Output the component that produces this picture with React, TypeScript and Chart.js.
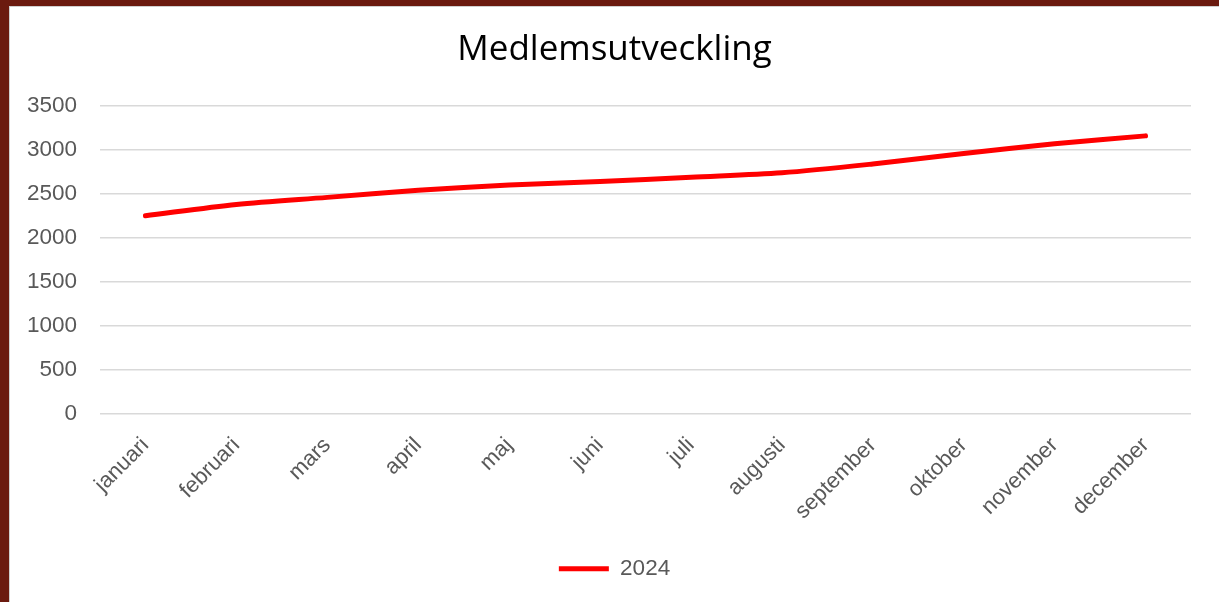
import React, { useEffect, useRef } from "react";
import { Chart, registerables } from "chart.js";

Chart.register(...registerables);

const TITLE = "Medlemsutveckling";
const MONTHS = [
  "januari",
  "februari",
  "mars",
  "april",
  "maj",
  "juni",
  "juli",
  "augusti",
  "september",
  "oktober",
  "november",
  "december",
];
const SERIES_LABEL = "2024";
const MEMBERS = [2250, 2380, 2460, 2540, 2600, 2640, 2690, 2740, 2840, 2960, 3070, 3160];
const Y_MIN = 0;
const Y_MAX = 3500;
const Y_STEP = 500;

const LABEL_FONT = "'Liberation Sans', Arial, sans-serif";
const LABEL_COLOR = "#595959";

export default function App() {
  const ref = useRef<HTMLCanvasElement>(null);

  useEffect(() => {
    if (!ref.current) return;
    const chart = new Chart(ref.current, {
      type: "line",
      data: {
        labels: MONTHS,
        datasets: [
          {
            label: SERIES_LABEL,
            data: MEMBERS,
            borderColor: "#FF0000",
            backgroundColor: "#FF0000",
            borderWidth: 5,
            borderCapStyle: "round",
            borderJoinStyle: "round",
            pointRadius: 0,
            pointHoverRadius: 0,
            tension: 0.3,
            fill: false,
            yAxisID: "y",
          },
        ],
      },
      options: {
        responsive: false,
        maintainAspectRatio: false,
        animation: false,
        layout: { padding: { left: 0, right: 0, top: 0, bottom: 12 } },
        plugins: {
          title: {
            display: true,
            text: TITLE,
            color: "#000000",
            font: { family: "'Open Sans', sans-serif", size: 35, weight: "normal" },
            padding: { top: 22, bottom: 35 },
          },
          legend: {
            position: "bottom",
            labels: {
              usePointStyle: true,
              pointStyle: "line",
              pointStyleWidth: 50,
              color: LABEL_COLOR,
              font: { family: LABEL_FONT, size: 22.5 },
              padding: 10,
            },
          },
          tooltip: { enabled: false },
        },
        scales: {
          x: {
            offset: true,
            grid: { display: false, drawTicks: false },
            border: { display: false },
            ticks: {
              color: LABEL_COLOR,
              font: { family: LABEL_FONT, size: 22 },
              minRotation: 45,
              maxRotation: 45,
              autoSkip: false,
              padding: 19,
            },
            afterFit: (s: any) => {
              s.height = 134;
            },
          },
          y: {
            min: Y_MIN,
            max: Y_MAX,
            border: { display: false },
            grid: { color: "#d9d9d9", lineWidth: 1.5, drawTicks: false },
            ticks: {
              stepSize: Y_STEP,
              color: LABEL_COLOR,
              font: { family: LABEL_FONT, size: 22.5 },
              padding: 23,
              callback: (v: any) => String(v),
            },
            afterFit: (s: any) => {
              s.width = 90;
            },
          },
          yRight: {
            position: "right",
            display: true,
            grid: { display: false, drawTicks: false },
            border: { display: false },
            ticks: { display: false },
            afterFit: (s: any) => {
              s.width = 28;
            },
          },
        },
      },
    });
    return () => chart.destroy();
  }, []);

  return (
    <div
      style={{
        position: "fixed",
        left: 0,
        top: 0,
        width: 1219,
        height: 602,
        background: "#6B1A0F",
        overflow: "hidden",
      }}
    >
      <div
        style={{
          position: "absolute",
          left: 9,
          top: 6,
          width: 1210,
          height: 596,
          background: "#ffffff",
          borderLeft: "1px solid #cfcfcf",
          borderTop: "1px solid #cfcfcf",
        }}
      >
        <canvas ref={ref} width={1209} height={595} style={{ display: "block" }} />
      </div>
    </div>
  );
}
